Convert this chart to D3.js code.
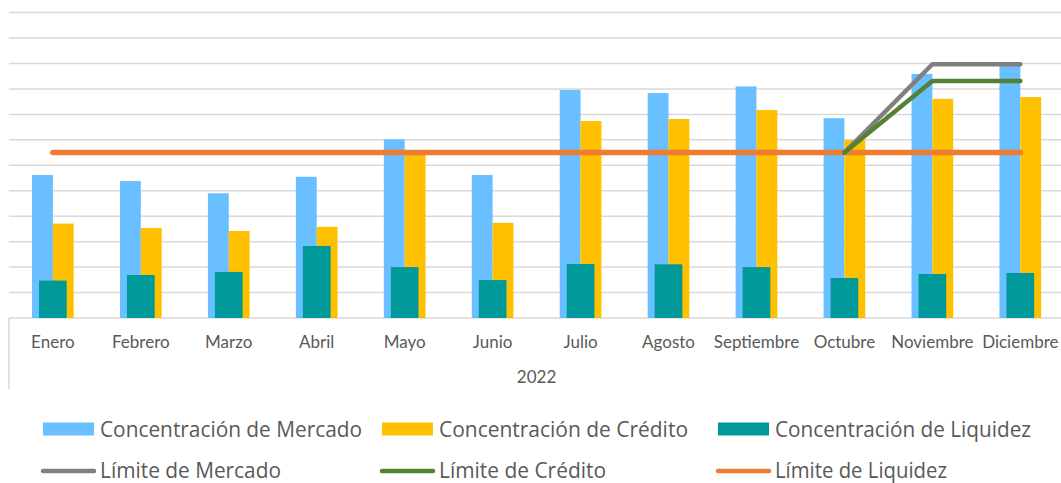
<!DOCTYPE html>
<html>
<head>
<meta charset="utf-8">
<script src="https://cdn.jsdelivr.net/npm/d3@7"></script>
<style>
  html, body { margin: 0; padding: 0; background: #fff; }
  svg { display: block; }
</style>
</head>
<body>
<svg id="chart" width="1061" height="483"></svg>
<script>
// Meses del año 2022
const months = ["Enero", "Febrero", "Marzo", "Abril", "Mayo", "Junio", "Julio",
  "Agosto", "Septiembre", "Octubre", "Noviembre", "Diciembre"];
const yearLabel = "2022";

// Concentraciones por mes
const mercado  = [5.62, 5.38, 4.90, 5.55, 7.02, 5.62, 8.96, 8.84, 9.10, 7.85, 9.59, 9.97];
const credito  = [3.71, 3.54, 3.42, 3.58, 6.48, 3.74, 7.74, 7.82, 8.17, 6.99, 8.61, 8.68];
const liquidez = [1.47, 1.69, 1.81, 2.83, 2.00, 1.49, 2.12, 2.11, 2.00, 1.57, 1.73, 1.77];

// Límites (solo definidos desde octubre para mercado y crédito)
const limMercado  = [null, null, null, null, null, null, null, null, null, 6.5, 9.97, 9.97];
const limCredito  = [null, null, null, null, null, null, null, null, null, 6.5, 9.31, 9.31];
const limLiquidez = [6.5, 6.5, 6.5, 6.5, 6.5, 6.5, 6.5, 6.5, 6.5, 6.5, 6.5, 6.5];

const gridTicks = d3.range(0, 13);

const colors = {
  mercado: "#69BFFF", credito: "#FFC000", liquidez: "#009999",
  limMercado: "#808080", limCredito: "#548235", limLiquidez: "#ED7D31"
};

const svg = d3.select("#chart");
const plotLeft = 8.9, plotRight = 1064.3, plotTop = 12.6, plotBottom = 318;

const x = d3.scaleBand().domain(months).range([plotLeft, plotRight]).padding(0);
const y = d3.scaleLinear().domain([0, 12]).range([plotBottom, plotTop]);
const bw = x.bandwidth();
const xSub = d3.scaleBand().domain(["mercado", "credito"]).range([0, bw])
  .paddingInner(0).paddingOuter(1.11);
const tealW = bw * 0.315;

// Líneas de cuadrícula
svg.append("g").selectAll("line").data(gridTicks).join("line")
  .attr("x1", plotLeft).attr("x2", 1061)
  .attr("y1", d => y(d)).attr("y2", d => y(d))
  .attr("stroke", "#d9d9d9").attr("stroke-width", 1.5);

// Eje de categorías de dos niveles
const axisG = svg.append("g");
axisG.append("line").attr("x1", plotLeft).attr("x2", plotLeft)
  .attr("y1", plotBottom).attr("y2", 389)
  .attr("stroke", "#d9d9d9").attr("stroke-width", 1.5);

// Barras de mercado y crédito
const bars = svg.append("g");
const seriesPair = [["mercado", mercado], ["credito", credito]];
seriesPair.forEach(([key, vals]) => {
  bars.append("g").selectAll("rect").data(vals).join("rect")
    .attr("x", (d, i) => x(months[i]) + xSub(key))
    .attr("width", xSub.bandwidth())
    .attr("y", d => y(d))
    .attr("height", d => y(0) - y(d))
    .attr("fill", colors[key]);
});
// Barras de liquidez, superpuestas y centradas
bars.append("g").selectAll("rect").data(liquidez).join("rect")
  .attr("x", (d, i) => x(months[i]) + bw / 2 - tealW / 2)
  .attr("width", tealW)
  .attr("y", d => y(d))
  .attr("height", d => y(0) - y(d))
  .attr("fill", colors.liquidez);

// Líneas de límite
const lineGen = d3.line()
  .defined(d => d.v !== null)
  .x(d => x(d.m) + bw / 2)
  .y(d => y(d.v));
const limits = [
  ["limLiquidez", limLiquidez, 5.5],
  ["limMercado", limMercado, 4.5],
  ["limCredito", limCredito, 4.5]
];
limits.forEach(([key, vals, w]) => {
  svg.append("path")
    .datum(vals.map((v, i) => ({ m: months[i], v })))
    .attr("d", lineGen)
    .attr("fill", "none")
    .attr("stroke", colors[key])
    .attr("stroke-width", w)
    .attr("stroke-linecap", "round")
    .attr("stroke-linejoin", "round");
});

// Etiquetas de meses
const labelFont = "Lato, 'Open Sans', sans-serif";
axisG.append("g").selectAll("text").data(months).join("text")
  .attr("x", d => x(d) + bw / 2)
  .attr("y", 348)
  .attr("text-anchor", "middle")
  .attr("font-family", labelFont)
  .attr("font-size", 17)
  .attr("fill", "#595959")
  .text(d => d);
axisG.append("text")
  .attr("x", (plotLeft + plotRight) / 2)
  .attr("y", 383)
  .attr("text-anchor", "middle")
  .attr("font-family", labelFont)
  .attr("font-size", 17)
  .attr("fill", "#595959")
  .text(yearLabel);

// Leyenda
const legendItems = [
  { label: "Concentración de Mercado", key: "mercado", type: "rect", col: 0, row: 0, len: 262 },
  { label: "Concentración de Crédito", key: "credito", type: "rect", col: 1, row: 0, len: 249 },
  { label: "Concentración de Liquidez", key: "liquidez", type: "rect", col: 2, row: 0, len: 256 },
  { label: "Límite de Mercado", key: "limMercado", type: "line", col: 0, row: 1, len: 181 },
  { label: "Límite de Crédito", key: "limCredito", type: "line", col: 1, row: 1, len: 167 },
  { label: "Límite de Liquidez", key: "limLiquidez", type: "line", col: 2, row: 1, len: 172 }
];
const colX = [43, 382, 718];
const rowY = [429, 471];
const legend = svg.append("g");
legendItems.forEach(it => {
  const gx = colX[it.col], gy = rowY[it.row];
  if (it.type === "rect") {
    legend.append("rect").attr("x", gx).attr("y", gy - 6.5)
      .attr("width", 51).attr("height", 13).attr("fill", colors[it.key]);
  } else {
    legend.append("line").attr("x1", gx).attr("x2", gx + 51)
      .attr("y1", gy).attr("y2", gy)
      .attr("stroke", colors[it.key]).attr("stroke-width", 4.5)
      .attr("stroke-linecap", "round");
  }
  legend.append("text")
    .attr("x", gx + 57).attr("y", gy + (it.row === 0 ? 7.5 : 6.5))
    .attr("font-family", "'Open Sans', 'Noto Sans', sans-serif")
    .attr("font-size", it.row === 0 ? 22 : 21)
    .attr("fill", "#595959")
    .attr("textLength", it.len)
    .attr("lengthAdjust", "spacingAndGlyphs")
    .text(it.label);
});
</script>
</body>
</html>
